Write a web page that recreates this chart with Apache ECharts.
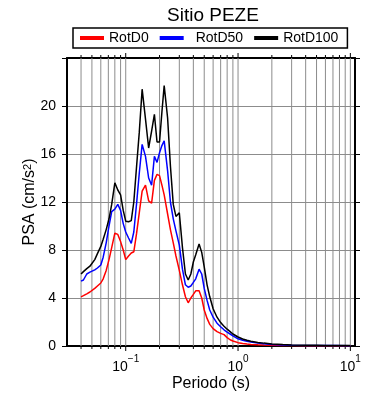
<!DOCTYPE html>
<html>
<head>
<meta charset="utf-8">
<script src="https://cdn.jsdelivr.net/npm/echarts@6/dist/echarts.min.js"></script>
<style>
  html, body { margin: 0; padding: 0; background: #fff; }
  #main { width: 390px; height: 400px; }
</style>
</head>
<body>
<div id="main"></div>
<script>
// periodos (s)
var periods = [0.04, 0.042, 0.045, 0.048, 0.05, 0.053, 0.056, 0.06, 0.063, 0.067, 0.071, 0.075,
  0.08, 0.085, 0.09, 0.095, 0.1, 0.106, 0.112, 0.118, 0.125, 0.132, 0.14, 0.15, 0.16, 0.17,
  0.18, 0.19, 0.2, 0.21, 0.22, 0.236, 0.25, 0.265, 0.28, 0.3, 0.32, 0.34, 0.36, 0.38, 0.4,
  0.42, 0.45, 0.475, 0.5, 0.53, 0.56, 0.6, 0.65, 0.7, 0.75, 0.8, 0.85, 0.9, 1, 1.1, 1.2, 1.3,
  1.5, 1.7, 2, 2.5, 3, 4, 5, 6, 7.5, 10];

var rotD0 = [4.1, 4.2, 4.35, 4.5, 4.6, 4.8, 5.0, 5.25, 5.6, 6.3, 7.2, 8.2,
  9.4, 9.3, 8.7, 8.0, 7.2, 7.5, 7.75, 7.85, 9.4, 11.1, 12.9, 13.4, 12.1, 11.9,
  13.8, 14.3, 14.2, 13.4, 12.6, 11.0, 9.7, 8.6, 7.5, 6.3, 5.1, 4.1, 3.6, 4.0, 4.3,
  4.6, 4.6, 4.0, 3.0, 2.3, 1.8, 1.45, 1.2, 1.05, 0.95, 0.7, 0.52, 0.42, 0.28, 0.21, 0.16, 0.13,
  0.1, 0.08, 0.06, 0.05, 0.04, 0.03, 0.03, 0.03, 0.02, 0.02];

var rotD50 = [5.4, 5.5, 6.0, 6.15, 6.25, 6.35, 6.5, 6.75, 7.4, 8.6, 10.0, 11.2,
  11.4, 11.8, 11.3, 10.2, 9.5, 9.0, 8.55, 9.5, 11.9, 14.4, 16.8, 15.8, 14.0, 13.4,
  15.8, 15.3, 16.1, 16.7, 17.1, 14.6, 12.0, 10.6, 9.6, 8.4, 6.4, 5.1, 4.9, 5.0, 5.3,
  5.6, 6.4, 6.0, 4.8, 3.8, 3.0, 2.4, 1.9, 1.6, 1.35, 1.15, 1.0, 0.85, 0.6, 0.48, 0.4, 0.34,
  0.25, 0.19, 0.13, 0.09, 0.07, 0.05, 0.05, 0.04, 0.04, 0.03];

var rotD100 = [6.0, 6.2, 6.45, 6.65, 6.8, 7.2, 7.7, 8.3, 8.9, 9.7, 10.6, 11.8,
  13.6, 13.0, 12.6, 11.3, 10.4, 10.35, 10.45, 12.0, 15.0, 17.8, 21.4, 18.9, 16.5, 17.9,
  19.3, 17.0, 17.0, 19.5, 21.7, 19.0, 15.0, 11.8, 10.8, 11.1, 8.2, 6.0, 5.5, 6.0, 7.0,
  7.6, 8.5, 7.8, 6.6, 5.1, 4.1, 3.1, 2.4, 1.95, 1.65, 1.4, 1.2, 1.0, 0.75, 0.58, 0.48, 0.4,
  0.3, 0.24, 0.17, 0.12, 0.09, 0.07, 0.06, 0.05, 0.05, 0.04];

// lineas de grilla verticales (escala log)
var gridPeriods = [0.04, 0.05, 0.06, 0.07, 0.08, 0.09, 0.1, 0.2, 0.3, 0.4, 0.5, 0.6, 0.7, 0.8, 0.9,
  1, 2, 3, 4, 5, 6, 7, 8, 9, 10];

var xMin = 0.03, xMax = 11, yMax = 24;
var font = 'Liberation Sans, Arial, Helvetica, sans-serif';

function isPow10(v) {
    var l = Math.log10(v);
    return Math.abs(l - Math.round(l)) < 1e-6;
}

function pairs(arr) {
    return periods.map(function (t, i) { return [t, arr[i]]; });
}

var myChart = echarts.init(document.getElementById('main'));

var option = {
    animation: false,
    backgroundColor: '#fff',
    textStyle: { fontFamily: font },
    title: {
        text: 'Sitio PEZE',
        left: 162,
        top: 1,
        textStyle: { fontFamily: font, fontSize: 19, fontWeight: 'normal', color: '#000' }
    },
    legend: {
        data: ['RotD0', 'RotD50', 'RotD100'],
        left: 73,
        top: 28,
        padding: [3, 9, 3, 7],
        borderColor: '#000',
        borderWidth: 1.5,
        borderRadius: 0,
        itemWidth: 24,
        itemHeight: 4,
        itemGap: 11,
        icon: 'rect',
        formatter: function (name) {
            return name === 'RotD50' ? '{p|}' + name : name;
        },
        textStyle: {
            fontFamily: font, fontSize: 14, color: '#000',
            rich: { p: { width: 7 } }
        }
    },
    grid: { left: 67, right: 35, top: 58, bottom: 54 },
    xAxis: [{
        type: 'log',
        logBase: 10,
        min: xMin,
        max: xMax,
        position: 'bottom',
        name: 'Periodo (s)',
        nameLocation: 'middle',
        nameGap: 30,
        nameMoveOverlap: false,
        nameTextStyle: { fontFamily: font, fontSize: 16, color: '#000' },
        axisLine: { onZero: false, lineStyle: { color: '#000', width: 2 } },
        axisTick: { show: false },
        splitLine: { show: false },
        minorTick: { show: false },
        axisLabel: {
            margin: 8,
            color: '#000',
            formatter: function (v) {
                if (!isPow10(v)) return '';
                var e = Math.round(Math.log10(v));
                return '{b|10}{s|' + (e < 0 ? '\u2212' + (-e) : e) + '}';
            },
            rich: {
                b: { fontFamily: font, fontSize: 14, lineHeight: 20, verticalAlign: 'bottom', color: '#000' },
                s: { fontFamily: font, fontSize: 10, lineHeight: 11, verticalAlign: 'top', color: '#000' }
            }
        }
    }, {
        type: 'log',
        logBase: 10,
        min: xMin,
        max: xMax,
        position: 'top',
        axisLine: { onZero: false, lineStyle: { color: '#000', width: 2 } },
        axisTick: { show: false },
        axisLabel: { show: false },
        splitLine: { show: false }
    }],
    yAxis: [{
        type: 'value',
        min: 0,
        max: yMax,
        interval: 4,
        position: 'left',
        name: 'PSA (cm/s{s|2})',
        nameLocation: 'middle',
        nameGap: 29,
        nameMoveOverlap: false,
        nameTextStyle: {
            fontFamily: font, fontSize: 16, color: '#000',
            rich: {
                s: { fontFamily: font, fontSize: 11, verticalAlign: 'top', lineHeight: 12 }
            }
        },
        axisLine: { lineStyle: { color: '#000', width: 2 } },
        axisTick: { show: true, inside: false, length: 5, lineStyle: { color: '#000' } },
        axisLabel: {
            margin: 11,
            fontFamily: font,
            fontSize: 14,
            color: '#000',
            formatter: function (v) { return v === yMax ? '' : v; }
        },
        splitLine: { show: true, lineStyle: { color: '#8c8c8c', width: 1 } }
    }, {
        type: 'value',
        min: 0,
        max: yMax,
        interval: 4,
        position: 'right',
        axisLine: { show: true, lineStyle: { color: '#000', width: 2 } },
        axisTick: { show: true, inside: false, length: 5, lineStyle: { color: '#000' } },
        axisLabel: { show: false },
        splitLine: { show: false }
    }],
    series: [{
        type: 'custom',
        name: 'grid',
        xAxisIndex: 0,
        yAxisIndex: 0,
        silent: true,
        z: 1,
        data: gridPeriods.map(function (t) { return [t, 0]; }),
        encode: { x: 0, y: 1 },
        renderItem: function (params, api) {
            var t = api.value(0);
            var b = api.coord([t, 0]);
            var tp = api.coord([t, yMax]);
            var len = isPow10(t) ? 5 : 3;
            return {
                type: 'group',
                children: [
                    { type: 'line', shape: { x1: b[0], y1: b[1], x2: tp[0], y2: tp[1] },
                      style: { stroke: '#8c8c8c', lineWidth: 1 } },
                    { type: 'line', shape: { x1: b[0], y1: b[1], x2: b[0], y2: b[1] + len },
                      style: { stroke: '#000', lineWidth: 1 } },
                    { type: 'line', shape: { x1: tp[0], y1: tp[1], x2: tp[0], y2: tp[1] - len },
                      style: { stroke: '#000', lineWidth: 1 } }
                ]
            };
        }
    }, {
        name: 'RotD0',
        type: 'line',
        data: pairs(rotD0),
        showSymbol: false,
        color: '#ff0000',
        lineStyle: { width: 1.5, color: '#ff0000' },
        z: 3
    }, {
        name: 'RotD50',
        type: 'line',
        data: pairs(rotD50),
        showSymbol: false,
        color: '#0000ff',
        lineStyle: { width: 1.5, color: '#0000ff' },
        z: 3
    }, {
        name: 'RotD100',
        type: 'line',
        data: pairs(rotD100),
        showSymbol: false,
        color: '#000000',
        lineStyle: { width: 1.5, color: '#000000' },
        z: 3
    }]
};

myChart.setOption(option);
</script>
</body>
</html>
